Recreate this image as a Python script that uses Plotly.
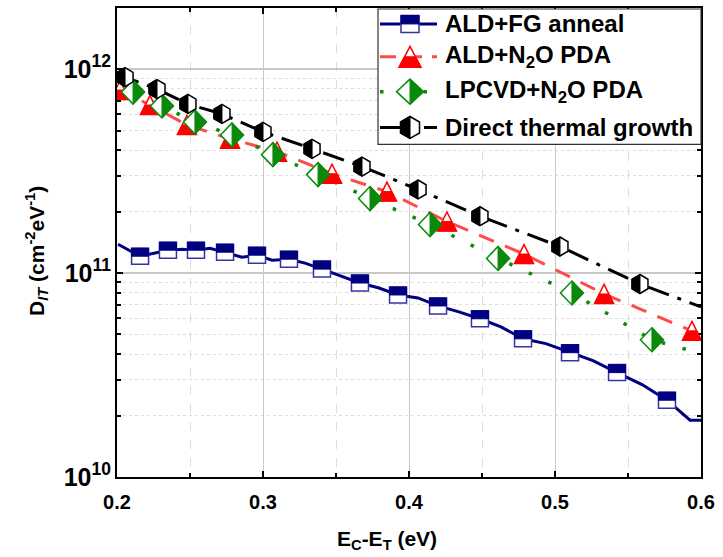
import plotly.graph_objects as go

# ---------------- data ----------------
# ALD+FG anneal : line points and marker points
FG_X = [0.2007, 0.2158, 0.2253, 0.2349, 0.2445, 0.2541, 0.2637, 0.2740, 0.2856, 0.2959,
        0.3062, 0.3178, 0.3288, 0.3404, 0.3534, 0.3664, 0.3795, 0.3925, 0.4062, 0.4199,
        0.4342, 0.4486, 0.4630, 0.4781, 0.4938, 0.5103, 0.5260, 0.5425, 0.5596, 0.5767,
        0.5925, 0.6000]
FG_Y = [1.385e11, 1.210e11, 1.252e11, 1.295e11, 1.310e11, 1.295e11, 1.324e11, 1.266e11, 1.197e11, 1.224e11,
        1.157e11, 1.170e11, 1.119e11, 1.046e11, 9.67e10, 8.94e10, 8.45e10, 7.81e10, 7.55e10, 6.90e10,
        6.45e10, 5.97e10, 5.45e10, 4.76e10, 4.51e10, 4.07e10, 3.72e10, 3.25e10, 2.84e10, 2.38e10,
        1.90e10, 1.90e10]
FG_MX = [0.2158, 0.2349, 0.2541, 0.2740, 0.2959, 0.3178, 0.3404, 0.3664, 0.3925, 0.4199,
         0.4486, 0.4781, 0.5103, 0.5425, 0.5767]
FG_MY = [1.210e11, 1.295e11, 1.295e11, 1.266e11, 1.224e11, 1.170e11, 1.046e11, 8.94e10, 7.81e10, 6.90e10,
         5.97e10, 4.76e10, 4.07e10, 3.25e10, 2.38e10]

# ALD+N2O PDA
N2O_X = [0.2007, 0.2021, 0.2226, 0.2479, 0.2774, 0.3096, 0.3473, 0.3849, 0.4260, 0.4788, 0.5336, 0.5938, 0.6000]
N2O_Y = [8.17e11, 7.90e11, 6.67e11, 5.33e11, 4.56e11, 3.94e11, 3.07e11, 2.51e11, 1.79e11, 1.24e11, 7.90e10, 5.21e10, 5.04e10]
N2O_MX = [0.2021, 0.2226, 0.2479, 0.2774, 0.3096, 0.3473, 0.3849, 0.4260, 0.4788, 0.5336, 0.5938]
N2O_MY = [7.90e11, 6.67e11, 5.33e11, 4.56e11, 3.94e11, 3.07e11, 2.51e11, 1.79e11, 1.24e11, 7.90e10, 5.21e10]

# LPCVD+N2O PDA
LP_X = [0.2007, 0.2110, 0.2308, 0.2534, 0.2788, 0.3068, 0.3377, 0.3733, 0.4144, 0.4610, 0.5116, 0.5664, 0.6000]
LP_Y = [8.26e11, 7.72e11, 6.60e11, 5.51e11, 4.76e11, 3.81e11, 3.04e11, 2.32e11, 1.73e11, 1.18e11, 7.99e10, 4.71e10, 4.03e10]
LP_MX = [0.2110, 0.2308, 0.2534, 0.2788, 0.3068, 0.3377, 0.3733, 0.4144, 0.4610, 0.5116, 0.5664]
LP_MY = [7.72e11, 6.60e11, 5.51e11, 4.76e11, 3.81e11, 3.04e11, 2.32e11, 1.73e11, 1.18e11, 7.99e10, 4.71e10]

# Direct thermal growth
DT_X = [0.2007, 0.2055, 0.2274, 0.2486, 0.2719, 0.3000, 0.3336, 0.3678, 0.4062, 0.4486, 0.5034, 0.5582, 0.6000]
DT_Y = [9.45e11, 9.14e11, 7.99e11, 6.75e11, 6.03e11, 4.93e11, 4.07e11, 3.33e11, 2.57e11, 1.90e11, 1.35e11, 8.84e10, 6.83e10]
DT_MX = [0.2055, 0.2274, 0.2486, 0.2719, 0.3000, 0.3336, 0.3678, 0.4062, 0.4486, 0.5034, 0.5582]
DT_MY = [9.14e11, 7.99e11, 6.75e11, 6.03e11, 4.93e11, 4.07e11, 3.33e11, 2.57e11, 1.90e11, 1.35e11, 8.84e10]

NAMES = ["ALD+FG anneal", "ALD+N<sub>2</sub>O PDA", "LPCVD+N<sub>2</sub>O PDA", "Direct thermal growth"]
X_TICKS = [0.2, 0.3, 0.4, 0.5, 0.6]

# ---------------- styles ----------------
NAVY, RED_LINE, RED, GREEN, BLACK = "#000080", "#ff4a4a", "#ff0000", "#0a8a0a", "#000000"
FONT = "Liberation Sans, Arial, sans-serif"


def sq(w, h):
    a, b = w / 2, h / 2
    full = f"M{-a},{-b}L{a},{-b}L{a},{b}L{-a},{b}Z"
    half = f"M{-a},0L{a},0L{a},{b}L{-a},{b}Z"          # top half
    return full, half


def tri(w, h):
    a, b = w / 2, h / 2
    full = f"M0,{b}L{a},{-b}L{-a},{-b}Z"
    half = f"M{-a},{-b}L{a},{-b}L{a/2},0L{-a/2},0Z"    # bottom half
    return full, half


def dia(w, h):
    a, b = w / 2, h / 2
    full = f"M0,{b}L{a},0L0,{-b}L{-a},0Z"
    half = f"M0,{b}L{a},0L0,{-b}Z"                      # right half
    return full, half


def hexa(w, h):
    a, b = w / 2, h / 2
    c = b / 2
    full = f"M0,{b}L{a},{c}L{a},{-c}L0,{-b}L{-a},{-c}L{-a},{c}Z"
    half = f"M0,{b}L{-a},{c}L{-a},{-c}L0,{-b}Z"         # left half
    return full, half


def glyphs(xs, ys, paths, edge, fill, xref="x", yref="y", lw=1.5):
    full, half = paths
    out = []
    for x, y in zip(xs, ys):
        base = dict(type="path", xref=xref, yref=yref, xsizemode="pixel", ysizemode="pixel",
                    xanchor=x, yanchor=y, layer="above")
        out.append(dict(base, path=full, fillcolor="white", line=dict(color=edge, width=lw)))
        out.append(dict(base, path=half, fillcolor=fill, line=dict(color=fill, width=1)))
    return out


fig = go.Figure()

series = [
    (FG_X, FG_Y, FG_MX, FG_MY, NAVY, "solid", 3, "square"),
    (N2O_X, N2O_Y, N2O_MX, N2O_MY, RED_LINE, "16px,12px", 3, "triangle-up"),
    (LP_X, LP_Y, LP_MX, LP_MY, GREEN, "3.5px,18px", 3.5, "diamond"),
    (DT_X, DT_Y, DT_MX, DT_MY, BLACK, "22px,9px,4px,9px", 3, "hexagon"),
]
for (x, y, mx, my, col, dash, w, sym), name in zip(series, NAMES):
    fig.add_trace(go.Scatter(x=x, y=y, mode="lines", line=dict(color=col, width=w, dash=dash),
                             name=name, showlegend=False, hoverinfo="skip"))
    fig.add_trace(go.Scatter(x=mx, y=my, mode="markers", name=name, showlegend=False,
                             marker=dict(symbol=sym, size=10, color="white", line=dict(width=0))))

shapes = []
shapes += glyphs(FG_MX, FG_MY, sq(17, 16), "#3535a0", NAVY)
shapes += glyphs(N2O_MX, N2O_MY, tri(19, 19), RED, RED)
shapes += glyphs(LP_MX, LP_MY, dia(23, 24), GREEN, GREEN)
shapes += glyphs(DT_MX, DT_MY, hexa(16, 19), BLACK, BLACK)

# ---------------- manual legend (paper coordinates) ----------------
PL, PR, PT, PB = 117, 701, 6, 477
def fx(px):
    return (px - PL) / (PR - PL)
def fy(py):
    return (PB - py) / (PB - PT)

shapes.append(dict(type="rect", xref="paper", yref="paper", x0=fx(378), x1=fx(701), y0=fy(143), y1=fy(7),
                   line=dict(color="#333333", width=1.2), fillcolor="white", layer="above"))
rows = [22, 55, 90, 126]
lx0, lx1, lmx, ltx = fx(380), fx(437), fx(410), fx(443)
leg_lines = [("solid", NAVY, 3), ("16px,10px", RED_LINE, 3), ("3.5px,40px", GREEN, 3.5), ("22px,9px,4px,9px", BLACK, 3)]
for r, (dash, col, w) in zip(rows, leg_lines):
    shapes.append(dict(type="line", xref="paper", yref="paper", x0=lx0, x1=lx1, y0=fy(r), y1=fy(r),
                       line=dict(color=col, width=w, dash=dash), layer="above"))
shapes += glyphs([lmx], [fy(rows[0])], sq(18, 17), "#3535a0", NAVY, "paper", "paper")
shapes += glyphs([lmx], [fy(rows[1])], tri(22, 21), RED, RED, "paper", "paper")
shapes += glyphs([lmx], [fy(rows[2])], dia(27, 25), GREEN, GREEN, "paper", "paper")
shapes += glyphs([lmx], [fy(rows[3])], hexa(19, 22), BLACK, BLACK, "paper", "paper")

annotations = []
for r, name in zip(rows, NAMES):
    annotations.append(dict(xref="paper", yref="paper", x=ltx, y=fy(r), xanchor="left", yanchor="middle",
                            text=name, showarrow=False,
                            font=dict(family=FONT, size=24, color="black", weight="bold")))

annotations.append(dict(xref="paper", yref="paper", x=fx(387), y=fy(540), xanchor="center", yanchor="middle",
                        text="E<sub>C</sub>-E<sub>T</sub> (eV)", showarrow=False,
                        font=dict(family=FONT, size=21, color="black", weight="bold")))
annotations.append(dict(xref="paper", yref="paper", x=fx(37), y=fy(250), xanchor="center", yanchor="middle",
                        text="D<sub><i>IT</i></sub> (cm<sup>-2</sup>eV<sup>-1</sup>)", textangle=-90,
                        showarrow=False, font=dict(family=FONT, size=21, color="black", weight="bold")))

fig.update_layout(
    width=723, height=557,
    margin=dict(l=PL, r=723 - PR, t=PT, b=557 - PB),
    paper_bgcolor="white", plot_bgcolor="white",
    showlegend=False,
    shapes=shapes, annotations=annotations,
    font=dict(family=FONT, color="black"),
)
fig.update_xaxes(
    range=[0.2, 0.6], tickvals=X_TICKS, tickformat=".1f",
    ticks="inside", ticklen=6, tickwidth=1.5, tickcolor="black",
    showline=True, linecolor="black", linewidth=2, mirror="ticks",
    showgrid=True, gridcolor="#c8c8c8", gridwidth=1,
    tickfont=dict(family=FONT, size=20, color="black", weight="bold"),
    ticklabelstandoff=6,
    minor=dict(dtick=0.05, ticks="inside", ticklen=4, tickcolor="black", tickwidth=1.5,
               showgrid=True, gridcolor="#dddddd", griddash="dash", gridwidth=1),
    zeroline=False,
)
fig.update_yaxes(
    type="log", range=[10, 12.30], dtick=1, exponentformat="power", showexponent="all",
    ticks="inside", ticklen=6, tickwidth=1.5, tickcolor="black",
    showline=True, linecolor="black", linewidth=2, mirror="ticks",
    showgrid=True, gridcolor="#c8c8c8", gridwidth=1.5,
    tickfont=dict(family=FONT, size=20, color="black", weight="bold"),
    minor=dict(dtick="D1", ticks="inside", ticklen=4, tickcolor="black", tickwidth=1.5,
               showgrid=True, gridcolor="#dddddd", griddash="dot", gridwidth=1),
    zeroline=False,
)

fig.write_html("out.html")
